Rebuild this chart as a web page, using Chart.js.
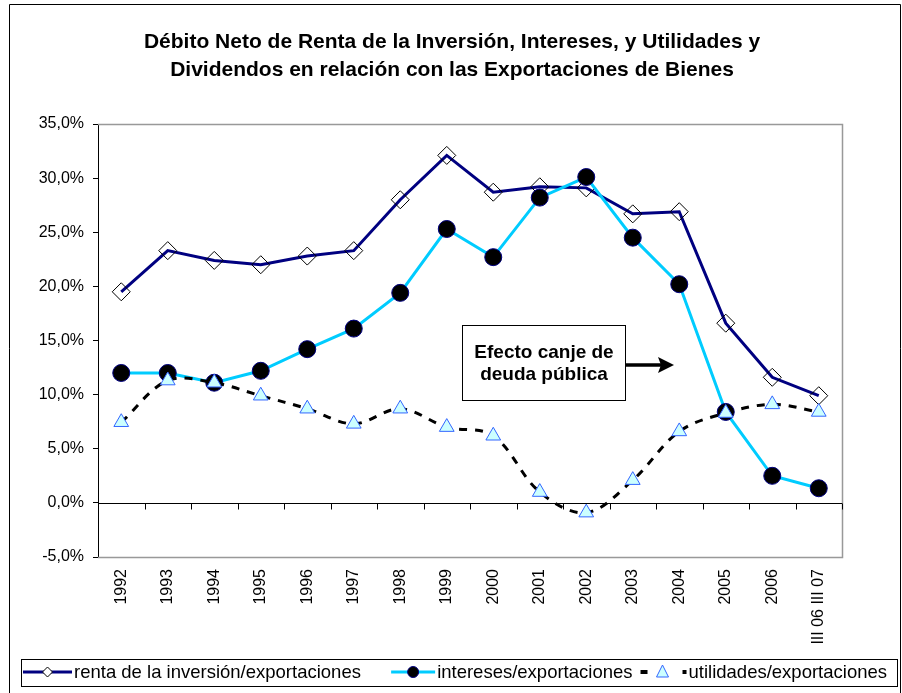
<!DOCTYPE html>
<html>
<head>
<meta charset="utf-8">
<script src="https://cdn.jsdelivr.net/npm/chart.js"></script>
<style>
html,body{margin:0;padding:0;background:#fff;}
#wrap{width:902px;height:693px;position:relative;}
</style>
</head>
<body>
<div id="wrap"><canvas id="c" width="902" height="693"></canvas></div>
<script>
const categories = ["1992","1993","1994","1995","1996","1997","1998","1999","2000","2001","2002","2003","2004","2005","2006","III 06 III 07"];
const rentaInversion = [19.5,23.3,22.4,22.0,22.8,23.3,28.0,32.1,28.7,29.2,29.1,26.7,26.9,16.6,11.6,9.9];
const intereses = [12.0,12.0,11.1,12.2,14.2,16.1,19.4,25.3,22.7,28.2,30.1,24.5,20.2,8.4,2.5,1.35];
const utilidades = [7.45,11.3,11.1,9.9,8.7,7.3,8.7,7.0,6.2,1.0,-0.9,2.1,6.6,8.3,9.1,8.4];
const seriesNames = ["renta de la inversión/exportaciones","intereses/exportaciones","utilidades/exportaciones"];
const titleLines = ["Débito Neto de Renta de la Inversión, Intereses, y Utilidades y","Dividendos en relación con las Exportaciones de Bienes"];
const annotationLines = ["Efecto canje de","deuda pública"];
const yTicks = {min:-5, max:35, step:5};

const FONT = "'Liberation Sans', Arial, sans-serif";
const NAVY = "#000080", CYAN = "#00CCFF", TRI_FILL = "#CCFFFF", TRI_EDGE = "#3366FF";

const decor = {
  id: 'decor',
  beforeDraw(chart) {
    const ctx = chart.ctx;
    ctx.save();
    ctx.fillStyle = '#fff';
    ctx.fillRect(0,0,chart.width,chart.height);
    ctx.strokeStyle = '#000';
    ctx.lineWidth = 1;
    ctx.beginPath();
    ctx.moveTo(9.5,693); ctx.lineTo(9.5,4.5); ctx.lineTo(900.5,4.5); ctx.lineTo(900.5,693);
    ctx.stroke();
    ctx.restore();
  },
  beforeDatasetsDraw(chart) {
    const ctx = chart.ctx, a = chart.chartArea;
    const y = chart.scales.y;
    ctx.save();
    ctx.strokeStyle = '#999';
    ctx.lineWidth = 1.5;
    ctx.beginPath();
    ctx.moveTo(a.left, a.top+0.5); ctx.lineTo(a.right+0.5, a.top+0.5);
    ctx.lineTo(a.right+0.5, a.bottom+0.5); ctx.lineTo(a.left, a.bottom+0.5);
    ctx.stroke();
    const y0 = Math.round(y.getPixelForValue(0)) + 0.5;
    ctx.strokeStyle = '#000';
    ctx.lineWidth = 1;
    ctx.beginPath();
    ctx.moveTo(a.left, y0); ctx.lineTo(a.right, y0);
    const n = categories.length;
    for (let i = 1; i <= n; i++) {
      const px = Math.round(a.left + (a.right - a.left) * i / n) + 0.5;
      ctx.moveTo(px, y0); ctx.lineTo(px, y0 + 6);
    }
    ctx.stroke();
    ctx.restore();
  },
  afterDraw(chart) {
    const ctx = chart.ctx;
    ctx.save();
    ctx.fillStyle = '#000';
    ctx.font = "bold 21px " + FONT;
    ctx.textAlign = 'center';
    ctx.textBaseline = 'middle';
    ctx.fillText(titleLines[0], 452, 42);
    ctx.fillText(titleLines[1], 452, 70);
    // annotation box
    ctx.fillStyle = '#fff';
    ctx.fillRect(462, 325, 163, 75);
    ctx.strokeStyle = '#000';
    ctx.lineWidth = 1;
    ctx.strokeRect(462.5, 325.5, 163, 75);
    ctx.fillStyle = '#000';
    ctx.font = "bold 19px " + FONT;
    ctx.fillText(annotationLines[0], 544, 353);
    ctx.fillText(annotationLines[1], 544, 375);
    // arrow
    ctx.lineWidth = 3.5;
    ctx.beginPath();
    ctx.moveTo(626, 365); ctx.lineTo(662, 365);
    ctx.stroke();
    ctx.beginPath();
    ctx.moveTo(674, 365); ctx.lineTo(658, 357); ctx.lineTo(661, 365); ctx.lineTo(658, 373); ctx.closePath();
    ctx.fill();
    // legend
    const ly = 672;
    ctx.fillStyle = '#fff';
    ctx.fillRect(21, 659, 876, 27);
    ctx.strokeStyle = '#000';
    ctx.lineWidth = 1;
    ctx.strokeRect(21.5, 659.5, 876, 27);
    ctx.font = "18.5px " + FONT;
    ctx.textAlign = 'left';
    ctx.textBaseline = 'middle';
    const w0 = ctx.measureText(seriesNames[0]).width;
    const w1 = ctx.measureText(seriesNames[1]).width;
    const w2 = ctx.measureText(seriesNames[2]).width;
    const x2 = 887 - w2;
    const s2 = x2 - 48;
    const x1end = s2 - 8;
    const x1 = x1end - w1;
    const s1 = x1 - 46;
    // renta
    ctx.strokeStyle = NAVY; ctx.lineWidth = 3;
    ctx.beginPath(); ctx.moveTo(23, ly); ctx.lineTo(72, ly); ctx.stroke();
    ctx.fillStyle = '#fff'; ctx.strokeStyle = '#000'; ctx.lineWidth = 1;
    ctx.beginPath(); ctx.moveTo(47.5, ly-5); ctx.lineTo(52.5, ly); ctx.lineTo(47.5, ly+5); ctx.lineTo(42.5, ly); ctx.closePath();
    ctx.fill(); ctx.stroke();
    ctx.fillStyle = '#000';
    ctx.fillText(seriesNames[0], 74, ly+1);
    // intereses
    ctx.strokeStyle = CYAN; ctx.lineWidth = 3;
    ctx.beginPath(); ctx.moveTo(s1, ly); ctx.lineTo(s1+44, ly); ctx.stroke();
    ctx.fillStyle = '#000'; ctx.strokeStyle = NAVY; ctx.lineWidth = 1;
    ctx.beginPath(); ctx.arc(s1+22, ly, 5.5, 0, Math.PI*2); ctx.fill(); ctx.stroke();
    ctx.fillStyle = '#000';
    ctx.fillText(seriesNames[1], x1, ly+1);
    // utilidades
    ctx.fillRect(s2, ly-2, 7, 4);
    ctx.fillRect(s2+42, ly-2, 4, 4);
    ctx.fillStyle = TRI_FILL; ctx.strokeStyle = TRI_EDGE; ctx.lineWidth = 1;
    const tc = s2 + 22;
    ctx.beginPath(); ctx.moveTo(tc, ly-7); ctx.lineTo(tc+6, ly+5); ctx.lineTo(tc-6, ly+5); ctx.closePath();
    ctx.fill(); ctx.stroke();
    ctx.fillStyle = '#000';
    ctx.fillText(seriesNames[2], x2, ly+1);
    ctx.restore();
  }
};

new Chart(document.getElementById('c'), {
  type: 'line',
  data: {
    labels: categories,
    datasets: [
      {
        label: seriesNames[0], data: rentaInversion, order: 3,
        borderColor: NAVY, borderWidth: 3, tension: 0,
        pointStyle: 'rectRot', pointRadius: 9, pointBackgroundColor: 'rgba(255,255,255,0)',
        pointBorderColor: '#000', pointBorderWidth: 1
      },
      {
        label: seriesNames[1], data: intereses, order: 2,
        borderColor: CYAN, borderWidth: 3, tension: 0,
        pointStyle: 'circle', pointRadius: 8.5, pointBackgroundColor: '#000',
        pointBorderColor: NAVY, pointBorderWidth: 1
      },
      {
        label: seriesNames[2], data: utilidades, order: 1,
        borderColor: '#000', borderWidth: 3, borderDash: [8, 8], tension: 0.35,
        pointStyle: 'triangle', pointRadius: 8.5, pointBackgroundColor: TRI_FILL,
        pointBorderColor: TRI_EDGE, pointBorderWidth: 1
      }
    ]
  },
  options: {
    responsive: false,
    animation: false,
    events: [],
    layout: { padding: { top: 124, right: 60, left: 0, bottom: 0 }, autoPadding: false },
    plugins: { legend: { display: false }, title: { display: false }, tooltip: { enabled: false } },
    scales: {
      x: {
        offset: true,
        afterFit(s) { s.height = 136; },
        grid: { display: false, drawTicks: false },
        border: { display: false },
        ticks: { minRotation: 90, maxRotation: 90, autoSkip: false, padding: 12, color: '#000', font: { family: FONT, size: 16 } }
      },
      y: {
        min: yTicks.min, max: yTicks.max,
        afterFit(s) { s.width = 98; },
        grid: { drawOnChartArea: false, drawTicks: true, tickLength: 5, color: '#000' },
        border: { display: true, color: '#000', width: 1 },
        ticks: { stepSize: yTicks.step, padding: 9, color: '#000', font: { family: FONT, size: 16 },
          callback: v => v.toFixed(1).replace('.', ',') + '%' }
      }
    }
  },
  plugins: [decor]
});
</script>
</body>
</html>
